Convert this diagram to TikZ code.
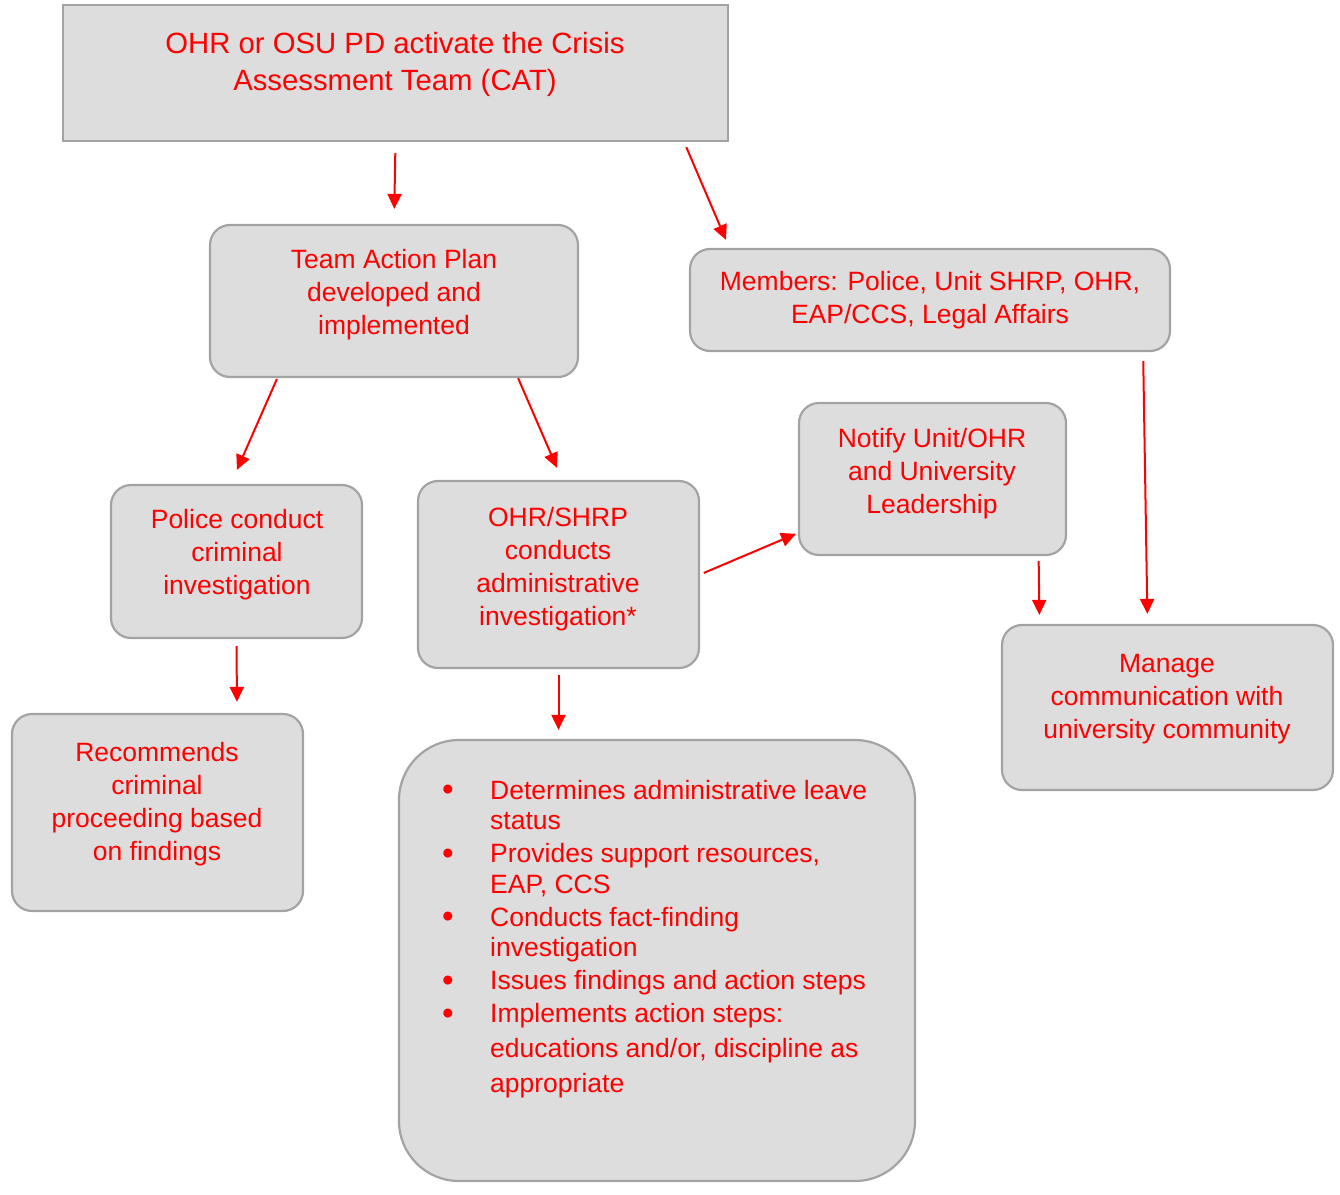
\documentclass[tikz,border=0pt]{standalone}
\usepackage{fontspec}
\setmainfont{Liberation Sans}
\usetikzlibrary{arrows.meta}
\definecolor{boxfill}{RGB}{221,221,221}
\definecolor{boxline}{RGB}{163,163,163}
\definecolor{txtred}{RGB}{255,0,0}
\newcommand{\bigbul}{\makebox[49pt][l]{\hspace*{1pt}\raisebox{-1.5pt}{\fontsize{33}{33}\selectfont\textbullet}}}
\tikzset{
  box/.style={draw=boxline, line width=2.2pt, fill=boxfill, rounded corners=20pt, inner sep=0pt},
  sharpbox/.style={draw=boxline, line width=2.2pt, fill=boxfill, inner sep=0pt},
  lbl/.style={text=txtred, align=center, inner sep=0pt, font=\fontsize{26.5}{33}\selectfont},
  biglbl/.style={text=txtred, align=center, inner sep=0pt, font=\fontsize{29.3}{37}\selectfont},
  arr/.style={draw=txtred, line width=2pt, -{Triangle[width=14pt,length=15pt]}},
}
\begin{document}
\begin{tikzpicture}[x=1pt,y=-1pt]
\useasboundingbox (0,0) rectangle (1340,1194);
% boxes
\node[sharpbox, minimum width=665pt, minimum height=136pt] (top) at (395.5,73) {};
\node[box, minimum width=368pt, minimum height=152pt] (tap) at (394,301) {};
\node[box, minimum width=480pt, minimum height=102pt] (mem) at (930,300) {};
\node[box, minimum width=251pt, minimum height=153pt] (pol) at (236.5,561.5) {};
\node[box, minimum width=281pt, minimum height=187pt] (ohr) at (558.5,574.5) {};
\node[box, minimum width=267pt, minimum height=152pt] (ntf) at (932.5,479) {};
\node[box, minimum width=331pt, minimum height=165pt] (mng) at (1167.5,707.5) {};
\node[box, minimum width=291pt, minimum height=197pt] (rec) at (157.5,812.5) {};
\node[box, rounded corners=60pt, minimum width=516pt, minimum height=441pt] (bul) at (657,960.5) {};
% texts
\node[biglbl] (toptxt) at (395,64.5) {OHR or OSU PD activate the Crisis\\Assessment Team (CAT)};
\node[lbl] (taptxt) at (394,295) {Team Action Plan\\developed and\\implemented};
\node[lbl] (memtxt) at (930,300.5) {Members: Police, Unit SHRP, OHR,\\EAP/CCS, Legal Affairs};
\node[lbl] (poltxt) at (237,555) {Police conduct\\criminal\\investigation};
\node[lbl] (ohrtxt) at (558,569.5) {OHR/SHRP\\conducts\\administrative\\investigation*};
\node[lbl] (ntftxt) at (932,474) {Notify Unit/OHR\\and University\\Leadership};
\node[lbl] (mngtxt) at (1167,699) {Manage\\communication with\\university community};
\node[lbl] (rectxt) at (157,804.5) {Recommends\\criminal\\proceeding based\\on findings};
\node[text=txtred, align=left, inner sep=0pt, anchor=north west,
      font=\fontsize{26.5}{30.5}\selectfont] (bultxt) at (441,780) {%
\bigbul Determines administrative leave\\
\hspace*{49pt}status\\[2.5pt]
\bigbul Provides support resources,\\
\hspace*{49pt}EAP, CCS\\[2.5pt]
\bigbul Conducts fact-finding\\
\hspace*{49pt}investigation\\[2.5pt]
\bigbul Issues findings and action steps\\[2.5pt]
\bigbul Implements action steps:\\[4.5pt]
\hspace*{49pt}educations and/or, discipline as\\[4.5pt]
\hspace*{49pt}appropriate};
% connectors
\draw[arr, shorten <=11pt, shorten >=15pt] (top.south) -- (tap.north);
\draw[arr, shorten <=5.5pt, shorten >=8.7pt] ([xshift=-45pt]top.south east) -- ([xshift=40.5pt]mem.north west);
\draw[arr, shorten <=1pt, shorten >=15.3pt] ([xshift=68.4pt]tap.south west) -- ([xshift=-5.7pt]pol.north);
\draw[arr, shorten <=0pt, shorten >=13.1pt] ([xshift=-61pt]tap.south east) -- ([xshift=3.7pt]ohr.north);
\draw[arr, shorten <=7pt, shorten >=11pt] (pol.south) -- ([xshift=79.5pt]rec.north);
\draw[arr, shorten <=6pt, shorten >=9pt] (ohr.south) -- (ohr.south |- bul.north);
\draw[arr, shorten <=4pt, shorten >=2pt] (ohr.east) -- ([yshift=-54pt]ntf.west);
\draw[arr, shorten <=9pt, shorten >=10pt] ([xshift=-28pt]mem.south east) -- ([xshift=-20pt]mng.north);
\draw[arr, shorten <=5pt, shorten >=9pt] ([xshift=-28.5pt]ntf.south east) -- ([xshift=-128pt]mng.north);
\end{tikzpicture}
\end{document}
